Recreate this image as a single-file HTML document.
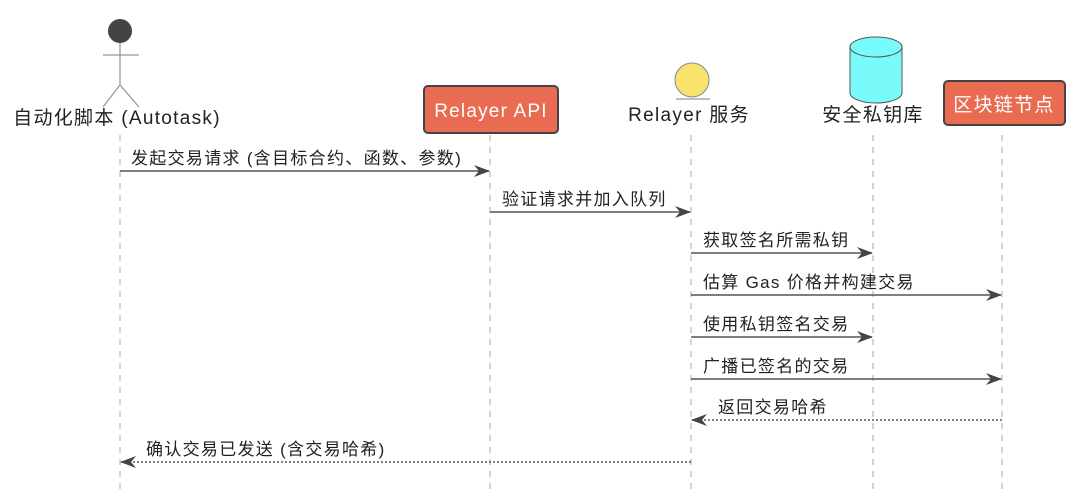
<!DOCTYPE html>
<html><head><meta charset="utf-8"><style>
body{margin:0;background:#fff;}
svg text{font-family:"Liberation Sans","Noto Sans CJK SC",sans-serif;fill:#222;}
</style></head><body>
<svg width="1080" height="493" viewBox="0 0 1080 493" xmlns="http://www.w3.org/2000/svg">
<defs>
<marker id="a" markerWidth="16" markerHeight="12" refX="15" refY="6" orient="auto" markerUnits="userSpaceOnUse">
<path d="M0,0 L16,6 L0,12 L5,6 Z" fill="#444"/></marker>
</defs>
<g stroke="#aaa" stroke-width="1" stroke-dasharray="6,6">
<line x1="120" y1="135" x2="120" y2="493"/>
<line x1="490" y1="135" x2="490" y2="493"/>
<line x1="691" y1="135" x2="691" y2="493"/>
<line x1="873" y1="135" x2="873" y2="493"/>
<line x1="1002" y1="135" x2="1002" y2="493"/>
</g>
<circle cx="120" cy="31" r="12" fill="#444"/>
<g stroke="#999" stroke-width="1.3" fill="none">
<line x1="120" y1="43" x2="120" y2="85"/>
<line x1="103" y1="55" x2="139" y2="55"/>
<line x1="120" y1="85" x2="103" y2="107"/>
<line x1="120" y1="85" x2="139" y2="107"/>
</g>
<g font-size="19" letter-spacing="1.3">
<text x="117" y="124" text-anchor="middle">自动化脚本 (Autotask)</text>
<text x="689" y="121" text-anchor="middle">Relayer 服务</text>
<text x="873" y="121" text-anchor="middle">安全私钥库</text>
</g>
<rect x="424" y="86" width="134" height="47" rx="4" fill="#e96c52" stroke="#444" stroke-width="2"/>
<text x="491" y="117" font-size="19" letter-spacing="1.2" text-anchor="middle" style="fill:#fff">Relayer API</text>
<circle cx="692" cy="80" r="17" fill="#f8e36e" stroke="#888" stroke-width="1"/>
<line x1="676" y1="99" x2="710" y2="99" stroke="#aaa" stroke-width="1.5"/>
<path d="M850,47 L850,93 A26,10 0 0 0 902,93 L902,47" fill="#79fbfb" stroke="#555" stroke-width="1"/>
<ellipse cx="876" cy="47" rx="26" ry="10" fill="#79fbfb" stroke="#555" stroke-width="1"/>
<rect x="944" y="81" width="121" height="44" rx="4" fill="#e96c52" stroke="#444" stroke-width="2"/>
<text x="1004" y="111" font-size="19" letter-spacing="1.3" text-anchor="middle" style="fill:#fff">区块链节点</text>
<g stroke="#555" stroke-width="1.4" fill="none">
<line x1="120" y1="171" x2="489" y2="171" marker-end="url(#a)"/>
<line x1="490" y1="212" x2="690" y2="212" marker-end="url(#a)"/>
<line x1="691" y1="253" x2="872" y2="253" marker-end="url(#a)"/>
<line x1="691" y1="295" x2="1001" y2="295" marker-end="url(#a)"/>
<line x1="691" y1="337" x2="872" y2="337" marker-end="url(#a)"/>
<line x1="691" y1="379" x2="1001" y2="379" marker-end="url(#a)"/>
<line x1="1002" y1="420" x2="692" y2="420" stroke-dasharray="2,2" marker-end="url(#a)"/>
<line x1="691" y1="462" x2="121" y2="462" stroke-dasharray="2,2" marker-end="url(#a)"/>
</g>
<g font-size="17" letter-spacing="1.3">
<text x="131" y="164">发起交易请求 (含目标合约、函数、参数)</text>
<text x="502" y="205">验证请求并加入队列</text>
<text x="703" y="246">获取签名所需私钥</text>
<text x="703" y="288">估算 Gas 价格并构建交易</text>
<text x="703" y="330">使用私钥签名交易</text>
<text x="703" y="372">广播已签名的交易</text>
<text x="718" y="413">返回交易哈希</text>
<text x="146" y="455">确认交易已发送 (含交易哈希)</text>
</g>
</svg>
</body></html>
